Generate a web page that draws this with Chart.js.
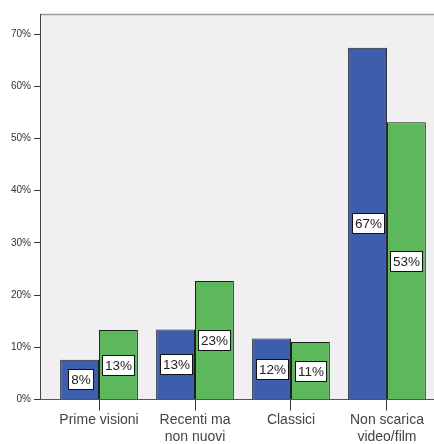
<!DOCTYPE html>
<html>
<head>
<meta charset="utf-8">
<script src="https://cdn.jsdelivr.net/npm/chart.js@4.4.1/dist/chart.umd.min.js"></script>
<style>
  html, body { margin: 0; padding: 0; overflow: hidden; background: #fff; }
  canvas { display: block; }
</style>
</head>
<body>
<canvas id="chart" width="446" height="444"></canvas>
<script>
// chart values (percent)
const categories = [["Prime visioni"], ["Recenti ma", "non nuovi"], ["Classici"], ["Non scarica", "video/film"]];
const seriesBlue = [7.6, 13.4, 11.7, 67.4];
const seriesGreen = [13.3, 22.7, 11.0, 53.1];
const yTicks = [0, 10, 20, 30, 40, 50, 60, 70];

const toPoints = vals => vals.map((v, i) => ({ x: i, y: v }));

// grey plot background + top frame line
const frame = {
  id: "frame",
  beforeDraw(chart) {
    const { ctx, chartArea: a } = chart;
    ctx.save();
    ctx.fillStyle = "#f0f0f3";
    ctx.fillRect(a.left, a.top, a.right - a.left, a.bottom - a.top);
    ctx.strokeStyle = "#9a9a9a";
    ctx.lineWidth = 1.5;
    ctx.beginPath();
    ctx.moveTo(a.left, a.top + 0.5);
    ctx.lineTo(a.right, a.top + 0.5);
    ctx.stroke();
    ctx.restore();
  }
};

// white boxed percentage labels in the middle of each bar
const boxLabels = {
  id: "boxLabels",
  afterDatasetsDraw(chart) {
    const ctx = chart.ctx;
    ctx.save();
    ctx.font = "13.5px 'Liberation Sans', Arial, sans-serif";
    ctx.textAlign = "center";
    ctx.textBaseline = "middle";
    chart.data.datasets.forEach((ds, di) => {
      chart.getDatasetMeta(di).data.forEach((el, i) => {
        const txt = Math.round(ds.data[i].y) + "%";
        const w = Math.round(ctx.measureText(txt).width + 5);
        const h = 20;
        const cx = Math.round(el.x);
        const cy = Math.round((el.y + el.base) / 2);
        const bx = Math.round(cx - w / 2), by = Math.round(cy - h / 2);
        ctx.fillStyle = "#ffffff";
        ctx.fillRect(bx, by, w, h);
        ctx.strokeStyle = "#111";
        ctx.lineWidth = 1;
        ctx.strokeRect(bx + 0.5, by + 0.5, w, h);
        ctx.fillStyle = "#222";
        ctx.fillText(txt, bx + w / 2 + 0.5, cy + 1);
      });
    });
    ctx.restore();
  }
};

new Chart(document.getElementById("chart"), {
  type: "bar",
  data: {
    datasets: [
      { data: toPoints(seriesBlue), backgroundColor: "#3d5ead", borderColor: "#1e1e1e", borderWidth: 1 },
      { data: toPoints(seriesGreen), backgroundColor: "#5cb85b", borderColor: "#1e1e1e", borderWidth: 1 }
    ]
  },
  options: {
    responsive: false,
    animation: false,
    categoryPercentage: 0.81,
    barPercentage: 1.0,
    layout: { padding: { top: 14, left: 0, right: 0, bottom: 0 } },
    plugins: { legend: { display: false }, tooltip: { enabled: false } },
    scales: {
      x: {
        type: "linear",
        offset: false,
        min: -0.615,
        max: 3.615,
        afterBuildTicks: s => { s.ticks = categories.map((c, i) => ({ value: i })); },
        afterFit: s => { s.height = 44.5; },
        grid: { drawOnChartArea: false, drawTicks: true, tickLength: 11, color: "#333", offset: false },
        border: { color: "#555", width: 1 },
        ticks: {
          color: "#444",
          padding: 2,
          maxRotation: 0,
          autoSkip: false,
          font: { family: "'Liberation Sans', Arial, sans-serif", size: 14, lineHeight: 1.15 },
          callback: v => categories[v]
        }
      },
      y: {
        min: 0,
        max: 73.85,
        afterBuildTicks: s => { s.ticks = yTicks.map(v => ({ value: v })); },
        afterFit: s => { s.width = 40; },
        grid: { drawOnChartArea: false, drawTicks: true, tickLength: 6, color: "#333" },
        border: { color: "#444", width: 1 },
        ticks: {
          color: "#333",
          padding: 3,
          font: { family: "'Liberation Sans', Arial, sans-serif", size: 10 },
          callback: v => v + "%"
        }
      }
    }
  },
  plugins: [frame, boxLabels]
});
</script>
</body>
</html>
